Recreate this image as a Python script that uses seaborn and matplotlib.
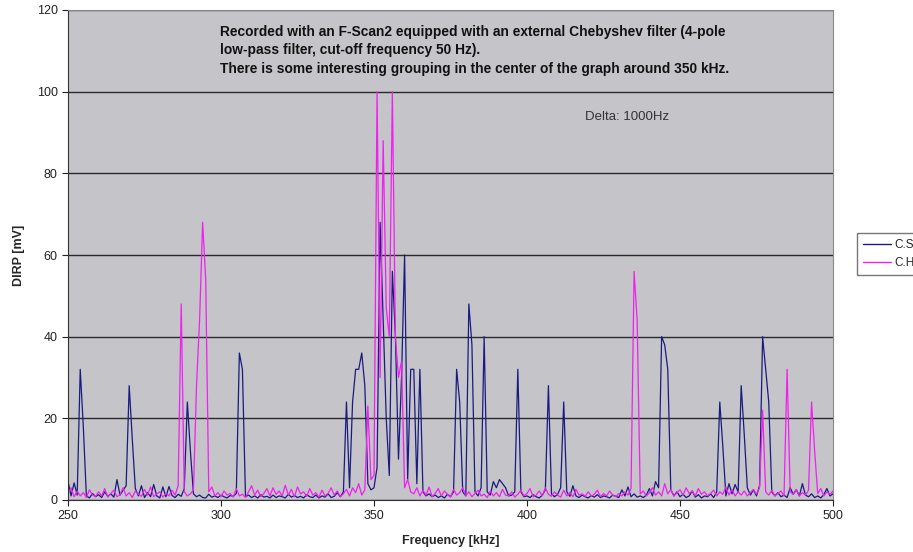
"""Frequenzscan C.S / C.H (F-Scan2 mit Chebyshev-Filter)."""
import numpy as np
import pandas as pd
import matplotlib
matplotlib.use("Agg")
import matplotlib.pyplot as plt
import seaborn as sns

# Frequenzraster 250..500 kHz, Schritt 1 kHz (Delta: 1000Hz)
freq_khz = list(range(250, 501))

# DIRP [mV] je Frequenz, zeilenweise 10 kHz
cs_mv = [
    4.6, 1.0, 4.2, 1.2, 32, 18, 1.0, 0.5, 1.6, 0.8,     # 250
    1.3, 0.6, 2.0, 0.9, 1.5, 0.7, 5.0, 1.2, 2.4, 3.5,   # 260
    28, 15, 2.8, 1.0, 3.5, 0.6, 1.8, 0.8, 3.8, 1.0,     # 270
    0.5, 3.2, 0.8, 3.3, 1.1, 0.6, 1.4, 0.9, 2.8, 24,    # 280
    12, 1.5, 0.8, 1.2, 0.6, 0.5, 1.4, 0.7, 1.0, 0.6,    # 290
    1.2, 0.8, 0.5, 1.1, 0.9, 1.6, 36, 32, 0.8, 1.2,     # 300
    0.6, 1.0, 0.5, 1.3, 0.7, 0.9, 0.5, 1.2, 0.6, 1.0,   # 310
    0.8, 0.5, 1.4, 0.7, 1.1, 0.6, 0.9, 0.5, 1.3, 0.8,   # 320
    0.6, 1.2, 0.5, 1.0, 0.7, 1.5, 0.6, 0.9, 1.8, 0.8,   # 330
    2.0, 24, 3.0, 24, 32, 32, 36, 28, 4.0, 2.5,         # 340
    3.0, 8.0, 68, 44, 20, 6.0, 56, 40, 10, 30,          # 350
    60, 5.0, 32, 32, 4.0, 32, 2.0, 1.0, 1.5, 0.8,       # 360
    1.2, 0.6, 1.0, 0.5, 1.4, 0.8, 2.0, 32, 24, 2.0,     # 370
    1.0, 48, 38, 2.0, 1.0, 3.0, 40, 2.0, 1.2, 4.5,      # 380
    3.0, 5.0, 4.0, 3.0, 1.0, 1.2, 2.0, 32, 2.0, 0.8,    # 390
    1.0, 0.6, 1.3, 0.8, 0.5, 1.2, 2.5, 28, 1.5, 0.8,    # 400
    1.4, 3.0, 24, 2.0, 0.9, 3.5, 1.0, 0.6, 1.2, 0.8,    # 410
    0.5, 1.1, 0.7, 1.3, 0.6, 1.0, 0.8, 0.5, 1.2, 0.9,   # 420
    0.6, 2.5, 1.0, 3.2, 0.8, 1.5, 0.7, 1.0, 0.6, 1.2,   # 430
    2.8, 1.0, 4.5, 3.0, 40, 38, 32, 2.5, 1.0, 2.0,      # 440
    0.8, 1.4, 0.6, 1.0, 2.2, 0.7, 1.3, 0.5, 1.0, 0.8,   # 450
    1.5, 0.6, 2.0, 24, 13, 1.0, 4.0, 1.5, 3.8, 2.0,     # 460
    28, 16, 3.0, 1.2, 2.5, 1.0, 3.5, 40, 32, 24,        # 470
    2.0, 1.0, 1.8, 0.8, 1.2, 0.6, 3.0, 1.4, 2.5, 1.0,   # 480
    4.0, 1.2, 0.8, 1.5, 0.6, 1.0, 0.5, 1.3, 2.8, 1.0,   # 490
    1.5,                                                # 500
]

ch_mv = [
    1.5, 3.0, 0.8, 2.2, 1.0, 1.8, 0.6, 2.5, 1.2, 0.9,   # 250
    2.0, 1.0, 2.8, 0.7, 1.6, 2.4, 0.8, 1.3, 3.0, 1.0,   # 260
    1.8, 0.6, 2.2, 1.4, 0.9, 2.6, 1.2, 3.2, 0.8, 1.5,   # 270
    2.0, 0.7, 1.6, 1.0, 2.4, 1.2, 3.5, 48, 2.0, 1.0,    # 280
    1.5, 2.5, 28, 44, 68, 54, 2.0, 3.2, 1.0, 1.8,       # 290
    0.8, 2.2, 1.2, 1.6, 0.7, 2.8, 1.0, 1.4, 0.6, 2.0,   # 300
    3.5, 1.2, 2.4, 0.8, 1.6, 2.8, 1.0, 3.0, 1.4, 2.2,   # 310
    1.0, 3.6, 1.2, 2.6, 0.8, 3.2, 1.5, 2.0, 0.9, 2.8,   # 320
    1.2, 1.8, 0.7, 2.4, 1.0, 1.6, 3.0, 1.2, 2.2, 0.8,   # 330
    1.5, 2.6, 1.0, 3.0, 1.8, 4.0, 1.2, 2.5, 23, 5.0,    # 340
    6.0, 100, 30, 88, 47, 40, 100, 40, 30, 34,          # 350
    3.0, 5.0, 2.0, 1.5, 3.0, 1.0, 2.4, 1.2, 3.2, 0.8,   # 360
    1.6, 2.8, 1.0, 2.2, 1.4, 0.7, 2.6, 1.2, 1.8, 3.0,   # 370
    1.0, 2.0, 0.8, 1.6, 2.4, 1.0, 1.4, 0.6, 2.2, 1.0,   # 380
    1.8, 0.8, 2.6, 1.2, 1.0, 2.0, 0.7, 1.4, 2.4, 1.0,   # 390
    1.6, 2.8, 0.8, 1.2, 2.2, 1.0, 3.0, 1.4, 0.9, 2.0,   # 400
    1.2, 0.7, 2.4, 1.0, 1.8, 0.8, 2.6, 1.2, 1.5, 0.9,   # 410
    2.0, 1.0, 1.4, 2.4, 0.8, 1.6, 1.0, 2.2, 1.2, 0.8,   # 420
    1.6, 1.0, 2.0, 1.2, 2.8, 56, 44, 1.5, 2.2, 1.0,     # 430
    1.8, 3.0, 1.2, 2.0, 1.0, 4.0, 1.5, 2.6, 1.0, 1.8,   # 440
    2.5, 1.2, 3.0, 1.6, 2.2, 1.0, 2.8, 1.4, 2.0, 1.0,   # 450
    1.6, 2.4, 1.0, 2.0, 1.4, 3.2, 1.2, 2.6, 1.0, 2.0,   # 460
    1.2, 2.2, 1.0, 1.8, 2.6, 1.4, 3.0, 22, 2.0, 1.2,    # 470
    2.4, 1.0, 1.6, 2.2, 1.0, 32, 2.0, 1.4, 2.6, 1.0,    # 480
    1.8, 1.2, 2.4, 24, 12, 1.6, 2.8, 1.0, 2.0, 1.4,     # 490
    2.2,                                                # 500
]

series_names = ["C.S", "C.H"]
series_colors = {"C.S": "#1a1a80", "C.H": "#f020f0"}
y_ticks = [0, 20, 40, 60, 80, 100, 120]
x_ticks = [250, 300, 350, 400, 450, 500]

note_text = ("Recorded with an F-Scan2 equipped with an external Chebyshev filter (4-pole\n"
             "low-pass filter, cut-off frequency 50 Hz).\n"
             "There is some interesting grouping in the center of the graph around 350 kHz.")

df = pd.DataFrame({
    "freq": freq_khz * 2,
    "dirp": cs_mv + ch_mv,
    "series": [series_names[0]] * len(freq_khz) + [series_names[1]] * len(freq_khz),
})

sns.set_style("white")
plt.rcParams["font.family"] = ["Liberation Sans", "DejaVu Sans"]

fig = plt.figure(figsize=(9.13, 5.52), dpi=100)
ax = fig.add_axes([68 / 913, 52 / 552, (833 - 68) / 913, 490 / 552])
ax.set_facecolor("#c5c4c9")

sns.lineplot(data=df, x="freq", y="dirp", hue="series", hue_order=series_names,
             palette=series_colors, linewidth=0.9, ax=ax, legend=False,
             estimator=None, sort=True)

ax.set_xlim(250, 500)
ax.set_ylim(0, 120)
ax.set_xticks(x_ticks)
ax.set_yticks(y_ticks)
ax.tick_params(axis="both", labelsize=9, length=4, width=0.8, direction="out",
               colors="#222222", bottom=True, left=True)
ax.yaxis.grid(True, color="#2a2a2a", linewidth=1.0)
ax.set_axisbelow(True)
for side in ["top", "right"]:
    ax.spines[side].set_color("#8a8a8a")
for side in ["left", "bottom"]:
    ax.spines[side].set_color("#333333")

ax.set_xlabel("Frequency [kHz]", fontsize=9, fontweight="bold", labelpad=9)
ax.set_ylabel("DIRP [mV]", fontsize=9, fontweight="bold", labelpad=8)

fig.text(220 / 913, 1 - 25 / 552, note_text, fontsize=9.9,
         fontweight="bold", color="#111111", va="top", ha="left", linespacing=1.4)
fig.text(585 / 913, 1 - 117 / 552, "Delta: 1000Hz",
         fontsize=9.5, color="#333333", va="center", ha="left")

handles = [plt.Line2D([0], [0], color=series_colors[n], lw=1.0) for n in series_names]
leg = ax.legend(handles, series_names, loc="upper left",
                bbox_to_anchor=(857 / 913, 1 - 233 / 552), bbox_transform=fig.transFigure,
                borderaxespad=0, fontsize=8.5, frameon=True, fancybox=False,
                handlelength=2.4, handletextpad=0.3, borderpad=0.5, labelspacing=0.5)
leg.get_frame().set_edgecolor("#555555")
leg.get_frame().set_linewidth(1.0)

fig.savefig("out.png", dpi=100)
plt.close(fig)
